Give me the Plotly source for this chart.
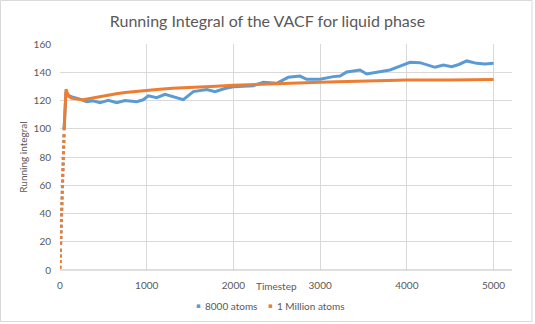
import plotly.graph_objects as go

# Early rise of the running integral (sampled steps, drawn as dots)
rise_t = [0, 2, 4, 6, 8, 10, 12, 14, 16, 18, 20, 22, 24, 26, 28, 30, 32, 34, 36,
          38, 40, 42, 44, 46, 48]
rise_v = [2, 6, 10, 14, 19, 23, 27, 31, 35, 39, 43, 47, 51, 55, 59, 63, 67, 71, 75,
          79, 83, 87, 91, 95, 100]

# 8000 atoms
small_t = [48, 56, 62, 69, 80, 100, 140, 180, 230, 308, 380, 461, 557, 654, 750,
           884, 960, 1019, 1115, 1211, 1307, 1422, 1538, 1692, 1788, 1900, 1999,
           2100, 2230, 2345, 2499, 2633, 2768, 2845, 2999, 3152, 3230, 3307, 3460,
           3537, 3653, 3806, 3922, 4037, 4152, 4229, 4325, 4421, 4518, 4600, 4691,
           4806, 4902, 5000]
small_v = [100, 112, 120, 126, 125, 123.5, 122.5, 122, 121, 119.2, 119.8, 118.5,
           120.1, 118.4, 120, 119.2, 120.5, 123.3, 122, 124.3, 122.5, 120.6, 126.3,
           127.7, 126.3, 128.5, 129.8, 130.2, 130.5, 132.9, 132.2, 136.4, 137.3, 135,
           135, 136.9, 137.3, 140.2, 141.6, 138.8, 140.2, 141.6, 144.4, 147, 146.8,
           145.1, 143.5, 145.1, 143.9, 145.5, 148, 146.3, 145.8, 146.3]

# 1 Million atoms
large_t = [48, 56, 62, 69, 80, 100, 130, 170, 220, 265, 350, 450, 550, 650, 750,
           850, 1000, 1150, 1300, 1450, 1600, 1800, 2000, 2200, 2400, 2600, 2800,
           3000, 3200, 3400, 3500, 3600, 3800, 4000, 4500, 5000]
large_v = [100, 112, 122, 128, 126, 123, 121.8, 121.2, 120.8, 120.5, 121.5, 122.7,
           123.8, 124.8, 125.6, 126.3, 127.2, 128, 128.6, 129.2, 129.6, 130.1, 130.8,
           131.3, 131.9, 132.4, 132.7, 133, 133.3, 133.6, 134.1, 134.3, 134.4, 134.5,
           134.6, 134.8]

series_names = ["8000 atoms", "1 Million atoms"]
x_ticks = [0, 1000, 2000, 3000, 4000, 5000]
y_ticks = [0, 20, 40, 60, 80, 100, 120, 140, 160]

BLUE = "#5B9BD5"
ORANGE = "#ED7D31"
GRID = "#D9D9D9"
TXT = "#595959"
FONT = "Lato"

# plot area in pixels: left 60, right 512, top 44, bottom 270
PW, PH = 452, 226


def px_x(p):
    return (p - 60) / PW


def px_y(p):
    return (270 - p) / PH


fig = go.Figure()
fig.add_trace(go.Scatter(x=rise_t, y=rise_v, mode="markers", showlegend=False,
                         marker=dict(color=BLUE, size=3, symbol="square")))
fig.add_trace(go.Scatter(x=small_t, y=small_v, mode="lines", name=series_names[0],
                         showlegend=False, line=dict(color=BLUE, width=3)))
fig.add_trace(go.Scatter(x=rise_t, y=rise_v, mode="markers", showlegend=False,
                         marker=dict(color=ORANGE, size=3, symbol="square")))
fig.add_trace(go.Scatter(x=large_t, y=large_v, mode="lines", name=series_names[1],
                         showlegend=False, line=dict(color=ORANGE, width=3)))

annotations = [
    dict(text="Timestep", xref="paper", yref="paper", x=px_x(276), y=px_y(286),
         xanchor="center", yanchor="middle", showarrow=False,
         font=dict(size=10, color=TXT)),
]
# legend: small square marker followed by the series name
for name, color, sx in zip(series_names, [BLUE, ORANGE], [198, 270]):
    annotations.append(dict(text="▪", xref="paper", yref="paper", x=px_x(sx),
                            y=px_y(306), xanchor="center", yanchor="middle",
                            showarrow=False, font=dict(size=7, color=color,
                                                       family="DejaVu Sans")))
    annotations.append(dict(text=name, xref="paper", yref="paper", x=px_x(sx + 5),
                            y=px_y(306), xanchor="left", yanchor="middle",
                            showarrow=False, font=dict(size=10, color=TXT)))

fig.update_layout(
    width=535, height=324,
    margin=dict(l=60, r=23, t=44, b=54, autoexpand=False),
    paper_bgcolor="white", plot_bgcolor="white",
    font=dict(family=FONT, color=TXT, size=10),
    showlegend=False,
    title=dict(text="Running Integral of the VACF for liquid phase",
               x=0.5, xanchor="center", y=1 - 21 / 324, yanchor="middle",
               font=dict(family=FONT, size=16, color=TXT)),
    xaxis=dict(range=[0, 5213], tickvals=x_ticks, showgrid=True, gridcolor=GRID,
               gridwidth=1, zeroline=False, showline=False, ticks="",
               ticklabelstandoff=8, tickfont=dict(size=10, color=TXT)),
    yaxis=dict(range=[0, 160], tickvals=y_ticks, showgrid=True, gridcolor=GRID,
               gridwidth=1, zeroline=False, showline=False, ticks="",
               ticklabelstandoff=8, tickfont=dict(size=10, color=TXT),
               title=dict(text="Running integral", standoff=4,
                          font=dict(size=10, color=TXT))),
    annotations=annotations,
    shapes=[
        # axis baseline
        dict(type="line", xref="paper", yref="paper", x0=0, x1=1, y0=0, y1=0,
             line=dict(color="#BFBFBF", width=1)),
        # chart border
        dict(type="rect", xref="paper", yref="paper",
             x0=px_x(0.5), x1=px_x(532), y0=px_y(321.5), y1=px_y(0.5),
             line=dict(color=GRID, width=1)),
    ],
)

fig.write_html("out.html")
